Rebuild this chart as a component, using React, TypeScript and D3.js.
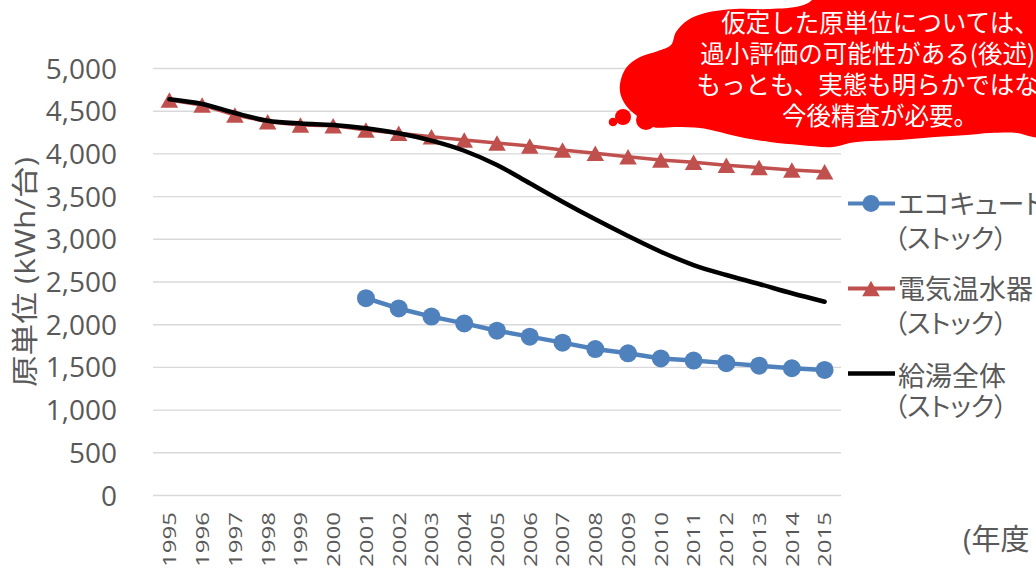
import React from 'react';
import * as d3 from 'd3';

// Fiscal years on the category axis
const years: number[] = [
  1995, 1996, 1997, 1998, 1999, 2000, 2001, 2002, 2003, 2004, 2005,
  2006, 2007, 2008, 2009, 2010, 2011, 2012, 2013, 2014, 2015,
];

// Unit consumption per appliance (kWh/台), stock average
const ecoCute: (number | null)[] = [
  null, null, null, null, null, null,
  2310, 2190, 2095, 2015, 1930, 1860, 1790, 1715, 1665, 1605, 1580, 1550, 1520, 1490, 1470,
];
const electricHeater: number[] = [
  4630, 4573, 4455, 4377, 4338, 4331, 4280, 4241, 4201, 4163, 4128,
  4092, 4045, 4007, 3967, 3929, 3902, 3866, 3841, 3811, 3792,
];
const totalHotWater: number[] = [
  4639, 4584, 4479, 4389, 4356, 4338, 4300, 4241, 4155, 4037, 3870,
  3656, 3440, 3234, 3039, 2855, 2699, 2582, 2477, 2368, 2269,
];

const yTicks: number[] = [0, 500, 1000, 1500, 2000, 2500, 3000, 3500, 4000, 4500, 5000];

const yAxisTitle = '原単位 (kWh/台)';
const xAxisTitle = '(年度';

const calloutLines: string[] = [
  '仮定した原単位については、',
  '過小評価の可能性がある(後述)。',
  'もっとも、実態も明らかではない',
  '今後精査が必要。',
];

const legendNames: string[][] = [
  ['エコキュート', '（ストック）'],
  ['電気温水器', '（ストック）'],
  ['給湯全体', '（ストック）'],
];

const BLUE = '#4f81bd';
const RED = '#c0504d';
const TEXT = '#595959';
const GRID = '#d9d9d9';
const NUM_FONT = "'Open Sans', 'Noto Sans CJK JP', sans-serif";
const JP_FONT = "'Noto Sans CJK JP', sans-serif";

// Outline of the speech cloud (annotation shape)
const cloudOutline: [number, number][] = [
  [620, 84], [626, 68], [640, 57], [658, 51], [671, 45], [676, 32], [688, 20],
  [705, 13], [735, 9], [770, 9], [800, 6], [812, 0], [822, -20], [1060, -20],
  [1060, 138], [1033, 137], [1017, 133], [990, 133], [967, 135], [935, 137],
  [900, 140], [870, 141], [850, 143], [833, 147], [800, 145], [770, 142],
  [740, 137], [715, 131], [700, 128], [675, 127], [653, 127], [640, 118],
  [628, 108], [621, 96],
];
const cloudBubbles: [number, number, number][] = [
  [613, 122, 4.3],
  [623, 117, 8],
  [646, 120, 10],
];

export default function App() {
  const width = 1036;
  const height = 568;

  const x = d3
    .scalePoint<number>()
    .domain(years)
    .range([153, 841])
    .padding(0.5);
  const y = d3.scaleLinear().domain([0, 5000]).range([495.5, 68.5]);

  const straight = d3
    .line<[number, number | null]>()
    .defined((d) => d[1] != null)
    .x((d) => x(d[0]) as number)
    .y((d) => y(d[1] as number));

  const smooth = d3
    .line<[number, number]>()
    .x((d) => x(d[0]) as number)
    .y((d) => y(d[1]))
    .curve(d3.curveCatmullRom.alpha(0.5));

  const ecoPairs = years.map((yr, i) => [yr, ecoCute[i]] as [number, number | null]);
  const heaterPairs = years.map((yr, i) => [yr, electricHeater[i]] as [number, number | null]);
  const totalPairs = years.map((yr, i) => [yr, totalHotWater[i]] as [number, number]);

  const cloudPath = d3.line().curve(d3.curveCatmullRomClosed.alpha(0.5))(cloudOutline) || '';

  const tri = (cx: number, cy: number, w = 17.5, h = 15.5) =>
    `M${cx},${cy - h / 2}L${cx + w / 2},${cy + h / 2}L${cx - w / 2},${cy + h / 2}Z`;

  const legendY = [203.5, 288.5, 373.5];
  const legendText1 = [213.5, 298.5, 386];
  const legendText2 = [247.5, 333, 416];

  return (
    <svg
      width={width}
      height={height}
      style={{ position: 'absolute', left: 0, top: 0, background: '#fff', overflow: 'hidden' }}
    >
      <rect x={0} y={0} width={width} height={height} fill="#fff" />

      {/* horizontal gridlines */}
      {yTicks.map((t) => (
        <line key={t} x1={153} x2={841} y1={y(t)} y2={y(t)} stroke={GRID} strokeWidth={1.4} />
      ))}

      {/* y tick labels */}
      {yTicks.map((t) => (
        <text
          key={'yl' + t}
          x={117}
          y={y(t)}
          dy="0.36em"
          textAnchor="end"
          fontFamily={NUM_FONT}
          fontSize={28}
          fill={TEXT}
        >
          {d3.format(',')(t)}
        </text>
      ))}

      {/* y axis title */}
      <text
        transform="translate(25,272) rotate(-90)"
        textAnchor="middle"
        dy="0.36em"
        fontFamily={NUM_FONT}
        fontSize={27}
        fill={TEXT}
        textLength={230}
        lengthAdjust="spacingAndGlyphs"
      >
        {yAxisTitle}
      </text>

      {/* x tick labels */}
      {years.map((yr) => (
        <text
          key={'xl' + yr}
          transform={`translate(${x(yr)},512) rotate(-90)`}
          textAnchor="end"
          dy="0.36em"
          fontFamily={NUM_FONT}
          fontSize={19}
          fill={TEXT}
          textLength={55}
          lengthAdjust="spacingAndGlyphs"
        >
          {yr}
        </text>
      ))}

      <text x={963} y={550} fontFamily={NUM_FONT} fontSize={29} fill={TEXT}>
        {xAxisTitle}
      </text>

      {/* 電気温水器 */}
      <path d={straight(heaterPairs) || ''} fill="none" stroke={RED} strokeWidth={3.5} />
      {heaterPairs.map(([yr, v]) => (
        <path key={'h' + yr} d={tri(x(yr) as number, y(v as number))} fill={RED} />
      ))}

      {/* エコキュート */}
      <path d={straight(ecoPairs) || ''} fill="none" stroke={BLUE} strokeWidth={4.5} />
      {ecoPairs
        .filter((d) => d[1] != null)
        .map(([yr, v]) => (
          <circle key={'e' + yr} cx={x(yr)} cy={y(v as number)} r={9} fill={BLUE} />
        ))}

      {/* 給湯全体 */}
      <path d={smooth(totalPairs) || ''} fill="none" stroke="#000" strokeWidth={4.5} strokeLinecap="round" />

      {/* legend */}
      {legendNames.map((names, i) => (
        <g key={'lg' + i}>
          <line
            x1={848}
            x2={895}
            y1={legendY[i]}
            y2={legendY[i]}
            stroke={i === 0 ? BLUE : i === 1 ? RED : '#000'}
            strokeWidth={i === 2 ? 4.5 : 4}
          />
          {i === 0 && <circle cx={871} cy={legendY[i]} r={8.5} fill={BLUE} />}
          {i === 1 && <path d={tri(871, legendY[i])} fill={RED} />}
          <text
            x={898}
            y={legendText1[i]}
            fontFamily={JP_FONT}
            fontSize={27}
            fill={TEXT}
            style={{ fontFeatureSettings: i === 0 ? '"palt"' : 'normal' }}
          >
            {names[0]}
          </text>
          <text
            x={894}
            y={legendText2[i]}
            fontFamily={JP_FONT}
            fontSize={26}
            fill={TEXT}
            style={{ fontFeatureSettings: '"palt"' }}
          >
            {names[1]}
          </text>
        </g>
      ))}

      {/* callout cloud */}
      <g fill="#ff0000">
        <path d={cloudPath} />
        {cloudBubbles.map(([cx, cy, r], i) => (
          <circle key={'b' + i} cx={cx} cy={cy} r={r} />
        ))}
      </g>
      {calloutLines.map((line, i) => (
        <text
          key={'c' + i}
          x={880}
          y={32 + i * 30.9}
          textAnchor="middle"
          fontFamily={JP_FONT}
          fontSize={24.5}
          fill="#fff"
        >
          {line}
        </text>
      ))}
    </svg>
  );
}
